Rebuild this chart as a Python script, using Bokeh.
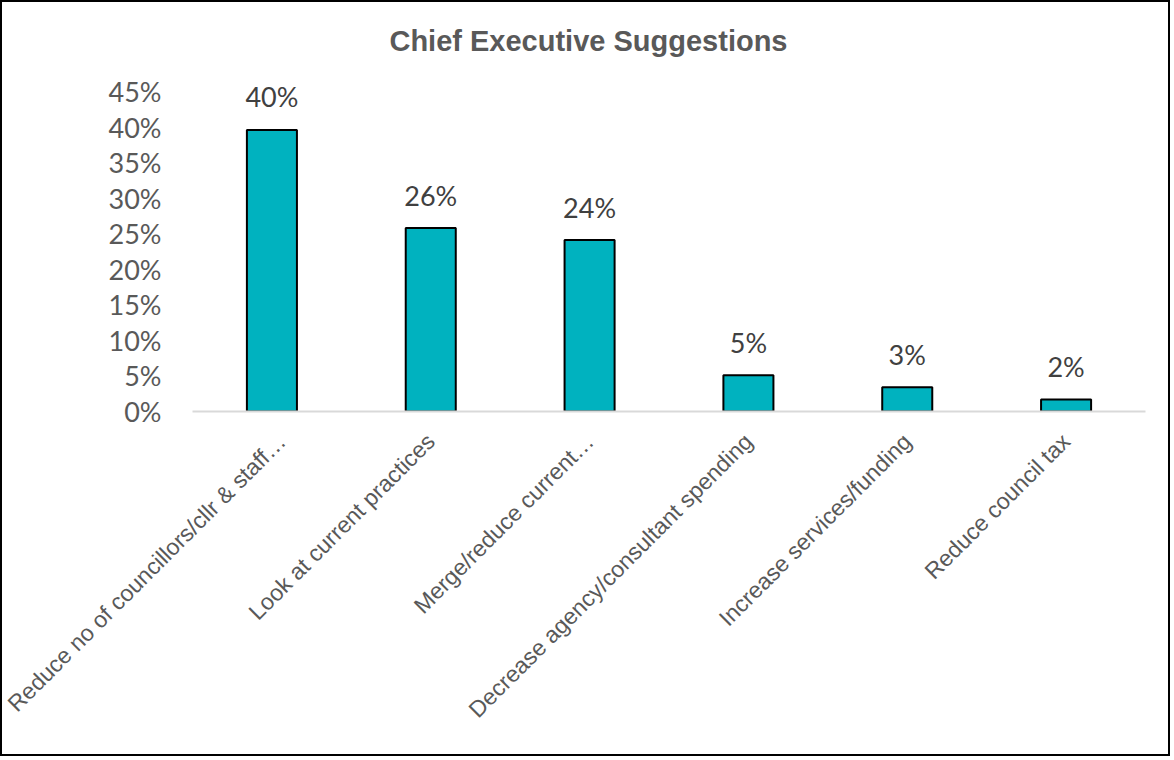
import math
from bokeh.plotting import figure
from bokeh.models import ColumnDataSource, Range1d, FactorRange, FixedTicker, NumeralTickFormatter, Label
from bokeh.core.properties import value
from bokeh.embed import file_html
from bokeh.resources import INLINE

categories = [
    "Reduce no of councillors/cllr & staff\u2026",
    "Look at current practices",
    "Merge/reduce current\u2026",
    "Decrease agency/consultant spending",
    "Increase services/funding",
    "Reduce council tax",
]
shares = [0.396, 0.258, 0.241, 0.051, 0.034, 0.017]
y_ticks = [0.0, 0.05, 0.10, 0.15, 0.20, 0.25, 0.30, 0.35, 0.40, 0.45]
title_text = "Chief Executive Suggestions"

labels = ["%d%%" % round(v * 100) for v in shares]
src = ColumnDataSource(dict(cat=categories, val=shares, lab=labels))

# The y axis shows 0-45% over 320 px; the frame runs up to the top edge so the
# title (drawn as a label inside the frame) and data labels are never clipped.
W, H = 1170, 756
bottom_border = 347
frame_h = H - bottom_border
axis_px = 320
y_top = 0.45 * frame_h / axis_px

p = figure(
    width=W, height=H,
    x_range=FactorRange(*categories, range_padding=0),
    y_range=Range1d(0, y_top),
    output_backend="svg", toolbar_location=None,
    min_border_left=190, min_border_right=27,
    min_border_top=0, min_border_bottom=bottom_border,
)
p.styles = {"border": "2px solid #000000"}
p.outline_line_color = None
p.background_fill_color = "white"
p.border_fill_color = "white"
p.xgrid.grid_line_color = None
p.ygrid.grid_line_color = None

p.vbar(x="cat", top="val", width=0.315, source=src,
       fill_color="#00B2BF", line_color="#000000", line_width=2)

p.text(x="cat", y="val", text="lab", source=src,
       text_align="center", text_baseline="alphabetic", y_offset=-33,
       text_font=value("Lato"), text_font_size="27px", text_color="#404040")

# y axis
p.yaxis.ticker = FixedTicker(ticks=y_ticks)
p.yaxis.formatter = NumeralTickFormatter(format="0%")
p.yaxis.axis_line_color = None
p.yaxis.major_tick_line_color = None
p.yaxis.minor_tick_line_color = None
p.yaxis.major_label_standoff = 25
p.yaxis.major_label_text_font = "Lato"
p.yaxis.major_label_text_font_size = "27px"
p.yaxis.major_label_text_color = "#595959"

# x axis
p.xaxis.axis_line_color = "#D9D9D9"
p.xaxis.axis_line_width = 2
p.xaxis.major_tick_line_color = None
p.xaxis.minor_tick_line_color = None
p.xaxis.major_label_orientation = math.pi / 4
p.xaxis.major_label_standoff = 20
p.xaxis.major_label_text_font = "Liberation Sans"
p.xaxis.major_label_text_font_size = "23px"
p.xaxis.major_label_text_color = "#595959"

# chart title, centred over the whole chart area
p.add_layout(Label(x=2.493, y=0.45 * (frame_h - 38) / axis_px, text=title_text,
                   text_align="center", text_baseline="middle",
                   text_font="Liberation Sans", text_font_size="29px",
                   text_font_style="bold", text_color="#595959"))

open("out.html", "w").write(file_html(p, INLINE))
